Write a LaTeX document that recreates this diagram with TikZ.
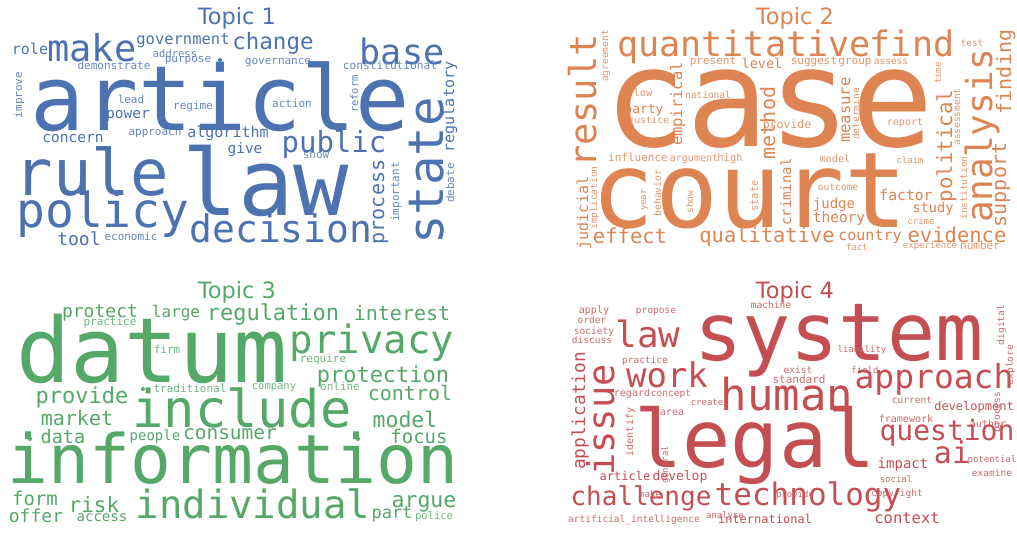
\documentclass[tikz,border=0pt]{standalone}
\usepackage{fontspec}
\newfontfamily\wcf{DejaVu Sans Mono}
\newfontfamily\ttlf{DejaVu Sans}
\definecolor{cA}{HTML}{4C72B0}
\definecolor{cB}{HTML}{DD8452}
\definecolor{cC}{HTML}{55A868}
\definecolor{cD}{HTML}{C44E52}
\tikzset{
  word/.style={anchor=base, inner sep=0pt, outer sep=0pt, font=\wcf\fontsize{#1}{#1}\selectfont},
  vword/.style={word=#1, rotate=90},
  ttl/.style={anchor=base, inner sep=0pt, font=\ttlf\fontsize{22.5}{22.5}\selectfont},
  wdot/.style={circle, fill, inner sep=0pt, minimum size=4pt}
}
\newcommand\pickcol[2]{\ifdim#1 pt<12pt\def\wcol{#2!85}\else\def\wcol{#2}\fi}
\begin{document}
\begin{tikzpicture}[x=1pt,y=-1pt]
\fill[white] (0,0) rectangle (1017,535);
\useasboundingbox (0,0) rectangle (1017,535);
% titles
\node[ttl, text=cA] (title1) at (237,25) {Topic 1};
\node[ttl, text=cB] (title2) at (795,25) {Topic 2};
\node[ttl, text=cC] (title3) at (237,298) {Topic 3};
\node[ttl, text=cD] (title4) at (795,298) {Topic 4};
% ---------- Topic 1
\foreach \x/\y/\s/\wtxt in {92/62/37/make,30/55/15/role,183/45/15.5/government,273/50/22.5/change,175/58/10.5/address,188/63/11/purpose,114/70/11/demonstrate,278/64/11/governance,402/65/35/base,390/70/11.2/constitutional,131/103/11/lead,193/109/11/regime,128/118/14.5/power,292/107/11/action,73/142/14.5/concern,155/135/11/approach,228/137/15/algorithm,245/153/14.5/give,334/152/29/public,316/158/11/show,220/130/90/article,92/195/64/rule,266/215/92/law,103/227/48/policy,79/245/18/tool,131/240/11/economic,281/242/38/decision}{
  \pickcol{\s}{cA}
  \node[word=\s, text=\wcol] (t1-\wtxt) at (\x,\y) {\wtxt};
}
\foreach \x/\y/\s/\wtxt in {454/107/15/regulatory,22/95/11/improve,358/94/10.5/reform,384/202/20/process,399/192/11/important,443/171/49/state,454/183/11/debate}{
  \pickcol{\s}{cA}
  \node[vword=\s, text=\wcol] (t1-\wtxt) at (\x,\y) {\wtxt};
}
\node[wdot, fill=cA] (t1-dot) at (220,60) {};
% ---------- Topic 2
\foreach \x/\y/\s/\wtxt in {744/57/35/quantitative,912/57/35/find,713/65/11/present,762/68/13.5/level,814/65/11/suggest,855/65/11/group,891/65/9.5/assess,972/47/9.5/test,905/125/10/report,787/128/11.5/provide,769/146/137/case,643/96/10.5/low,708/99/9.5/national,644/113/13/party,649/123/9.5/justice,638/161/11/influence,694/161/10/argument,730/161/10.5/high,750/227/105/court,630/243/20.5/effect,767/242/20.4/qualitative,835/162/10/model,910/163/9/claim,838/190/9.5/outcome,834/208/14/judge,839/222/14.5/theory,906/200/14.7/factor,933/212/13.6/study,921/224/9/crime,870/240/15/country,957/242/20.5/evidence,857/250/9/fact,930/248/9/experience,980/249/11/number}{
  \pickcol{\s}{cB}
  \node[word=\s, text=\wcol] (t2-\wtxt) at (\x,\y) {\wtxt};
}
\foreach \x/\y/\s/\wtxt in {596/101/37/result,608/56/9.5/agreement,992/136/36/analysis,1011/72/20/finding,941/73/9/time,960/117/9.5/assessment,952/146/20.7/political,850/110/15.5/measure,859/114/9.5/determine,682/104/15.5/empirical,775/123/20/method,588/213/15/judicial,597/198/9.5/implication,661/193/9.8/behavior,646/200/9/year,693/202/9.5/show,758/196/10.5/state,791/192/14/criminal,1006/185/20/support,967/188/9.5/institution}{
  \pickcol{\s}{cB}
  \node[vword=\s, text=\wcol] (t2-\wtxt) at (\x,\y) {\wtxt};
}
% ---------- Topic 3
\foreach \x/\y/\s/\wtxt in {100/317/18/protect,110/325/11/practice,176/317/16/large,273/320/22/regulation,402/320/20/interest,152/382/90/datum,372/353/39/privacy,167/353/11/firm,323/362/11/require,383/382/22/protection,274/389/10.5/company,340/390/11/online,410/400/20/control,190/392/11/traditional,82/403/22/provide,242/427/52/include,77/425/20/market,405/427/21.5/model,63/443/18.5/data,155/440/14/people,230/439/19.5/consumer,419/443/19/focus,233/483/68/information,35/505/19/form,94/512/21/risk,253/518/39/individual,424/507/21.5/argue,36/522/18/offer,102/521/14/access,392/518/17/part,434/519/10.5/police}{
  \pickcol{\s}{cC}
  \node[word=\s, text=\wcol] (t3-\wtxt) at (\x,\y) {\wtxt};
}
\node[wdot, fill=cC] (t3-dot1) at (143,389) {};
\node[wdot, fill=cC] (t3-dot2) at (30,439) {};
\node[wdot, fill=cC] (t3-dot3) at (358,439) {};
% ---------- Topic 4
\foreach \x/\y/\s/\wtxt in {594/313/10/apply,592/323/9.5/order,656/313/9.5/propose,594/334/9.5/society,592/343/9.5/discuss,648/347/36/law,771/308/9.5/machine,839/360/80/system,667/387/34/work,645/363/9.5/practice,632/396/10/regard,671/396/9.5/concept,707/405/9/create,672/415/10/area,787/410/44/human,798/373/9.5/exist,799/383/11/standard,862/352/9/liability,865/373/9/field,934/388/33/approach,912/403/9.5/current,906/422/10/framework,974/410/12/development,988/427/10/author,947/440/28/question,952/463/30/ai,992/462/9/potential,992/476/9.5/examine,903/468/14/impact,896/482/9/social,897/496/9.5/copyright,755/467/80/legal,641/505/26/challenge,625/480/12/article,680/480/13/develop,808/505/31/technology,765/523/12/international,907/523/15.5/context,725/518/9/analyse,795/497/9/provide,650/497/9/make}{
  \pickcol{\s}{cD}
  \node[word=\s, text=\wcol] (t4-\wtxt) at (\x,\y) {\wtxt};
}
\node[word=9.5, text=cD!85] (t4-ai-full) at (634,522) {artificial\_intelligence};
\foreach \x/\y/\s/\wtxt in {585/411/17.8/application,614/420/37/issue,633/432/10/identify,1004/325/9.5/digital,1013/365/9.5/explore,1000/412/9.5/process,668/465/9/general}{
  \pickcol{\s}{cD}
  \node[vword=\s, text=\wcol] (t4-\wtxt) at (\x,\y) {\wtxt};
}
\end{tikzpicture}
\end{document}
